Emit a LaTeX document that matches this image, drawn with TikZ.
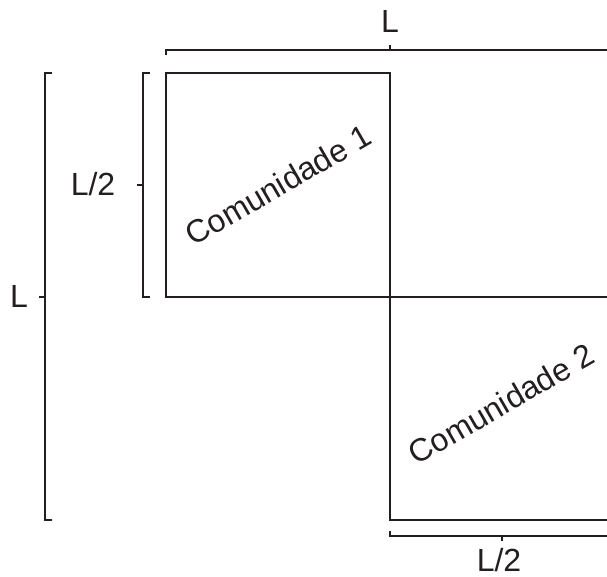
\documentclass[tikz,border=0pt]{standalone}
\usepackage{fontspec}
\setmainfont{Liberation Sans}
\definecolor{ink}{HTML}{231F20}
\tikzset{lbl/.style={anchor=base,inner sep=0pt}}
\begin{document}
\begin{tikzpicture}[x=0.75pt,y=-0.75pt,line width=1.5pt,draw=ink,text=ink,font=\fontsize{24}{28}\selectfont]
\useasboundingbox (0,0) rectangle (607,577);
\clip (0,0) rectangle (607,577);
% the two communities
\draw (390,297)--(166,297)--(166,73)--(390,73)--(390,297)--(614,297);
\draw (390,297)--(390,520)--(614,520)--(614,297);
\node[rotate=30] (com1) at (278,185) {Comunidade 1};
\node[rotate=30] (com2) at (501,404) {Comunidade 2};
% top bracket
\draw (166,55)--(166,50)--(614,50) (390,50)--(390,45);
\node[lbl] (Ltop) at (390,33) {L};
% left brackets
\draw (150,73)--(143,73)--(143,297)--(150,297) (143,185)--(137,185);
\node[lbl] (Lhalf) at (93,196) {L/2};
\draw (52,73)--(45,73)--(45,520)--(52,520) (45,297)--(39,297);
\node[lbl] (Lleft) at (19,308) {L};
% bottom bracket
\draw (390,531)--(390,536)--(614,536) (502,536)--(502,541);
\node[lbl] (Lbot) at (499,571) {L/2};
\end{tikzpicture}
\end{document}
